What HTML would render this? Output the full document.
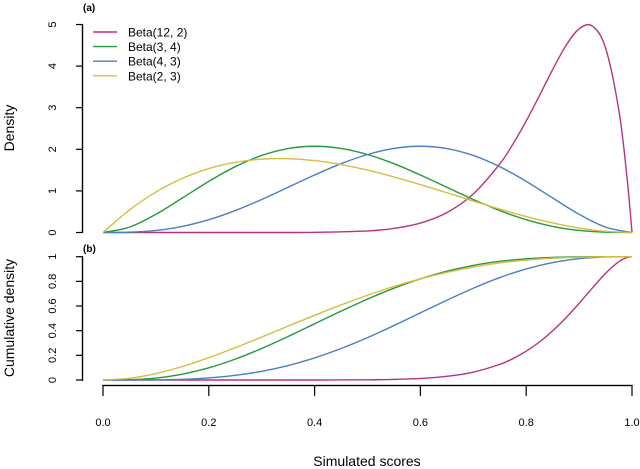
<!DOCTYPE html>
<html><head><meta charset="utf-8"><style>body{margin:0;background:#fff}svg{display:block;font-family:"Liberation Sans",sans-serif}</style></head>
<body>
<svg id="c" width="640" height="469" viewBox="0 0 640 469">
<text x="83" y="11" font-size="10" font-weight="bold">(a)</text>
<text x="83" y="252" font-size="10" font-weight="bold">(b)</text>
<text transform="translate(14,128) rotate(-90)" text-anchor="middle" font-size="14">Density</text>
<text transform="translate(14,318) rotate(-90)" text-anchor="middle" font-size="14">Cumulative density</text>
<text x="367" y="466" text-anchor="middle" font-size="14">Simulated scores</text>
<rect x="81.8" y="24" width="1.4" height="209" fill="#000"/>
<rect x="81.8" y="256" width="1.4" height="125" fill="#000"/>
<g id="axes"></g><g id="lines"></g><g id="legend"></g>
</svg>
<script>
const xs = [0,.05,.1,.15,.2,.25,.3,.35,.4,.45,.5,.55,.6,.65,.7,.75,.8,.85,.9,.95,1];
const xsA = [0,.3,.4,.5,.55,.6,.65,.7,.75,.775,.8,.825,.85,.875,.9,.925,.95,.975,.99,1];
const pdfA = [0,0.0002,0.004,0.038,0.098,0.226,0.478,0.925,1.647,2.127,2.68,3.29,3.915,4.489,4.895,4.963,4.437,2.95,1.397,0];
const cdfA = [0,0,0.0001,0.0017,0.0049,0.0126,0.0296,0.0637,0.1267,0.1736,0.2336,0.3082,0.3983,0.5035,0.6213,0.7456,0.8646,0.9593,0.9928,1];
const pdfB = [0,.1286,.4374,.8291,1.2288,1.582,1.8522,2.0185,2.0736,2.0215,1.875,1.6539,1.3824,1.0869,.7938,.5273,.3072,.1463,.0486,.0068,0];
const pdfC = [0,.0068,.0486,.1463,.3072,.5273,.7938,1.0869,1.3824,1.6539,1.875,2.0215,2.0736,2.0185,1.8522,1.582,1.2288,.8291,.4374,.1286,0];
const pdfD = [0,.5415,.972,1.3005,1.536,1.6875,1.764,1.7745,1.728,1.6335,1.5,1.3365,1.152,.9555,.756,.5625,.384,.2295,.108,.0285,0];
const cdfB = [0,.00223,.01585,.04738,.09888,.16944,.25569,.35292,.45568,.55848,.65625,.74471,.8208,.88258,.92953,.9624,.98304,.99412,.99873,.99991,1];
const cdfC = [0,.00009,.00127,.00588,.01696,.0376,.07047,.11742,.1792,.25529,.34375,.44152,.54432,.64708,.74431,.83056,.90112,.95262,.98415,.99777,1];
const cdfD = [0,.014,.0523,.1095,.1808,.2617,.3483,.437,.5248,.609,.6875,.7585,.8208,.8735,.9163,.9492,.9728,.988,.9963,.9995,1];
const names = ["Beta(12, 2)","Beta(3, 4)","Beta(4, 3)","Beta(2, 3)"];
const colors = ["#b8337d","#239a3f","#4a7fc0","#d6bd40"];
const yTicksA = [0,1,2,3,4,5];
const yTicksB = [0,0.2,0.4,0.6,0.8,1];
const yTickLabB = ["0","0.2","0.4","0.6","0.8","1"];
const xTicks = [0,0.2,0.4,0.6,0.8,1];
const xTickLab = ["0.0","0.2","0.4","0.6","0.8","1.0"];

const NS="http://www.w3.org/2000/svg";
const X = v => 103 + v*529;
const YA = v => 232.5 - v*41.6;
const YB = v => 380 - v*123.3;
function mk(t,a,p){const e=document.createElementNS(NS,t);for(const k in a)e.setAttribute(k,a[k]);p.appendChild(e);return e;}
const axes=document.getElementById('axes'), lines=document.getElementById('lines'), leg=document.getElementById('legend');
function yaxis(ticks,labs,Y,nm){
  ticks.forEach((t,i)=>{
    const tk=mk('line',{x1:76,x2:82.5,y1:Y(t),y2:Y(t),stroke:'#000','stroke-width':1.2},axes);
    
    
    const tx=mk('text',{transform:`translate(56,${Y(t)}) rotate(-90)`,'text-anchor':'middle','font-size':11},axes);
    tx.textContent=labs[i];
    
    
  });
}
yaxis(yTicksA,yTicksA.map(String),YA,'density-y');
yaxis(yTicksB,yTickLabB,YB,'cumulative-y');
const xl=mk('rect',{x:X(0)-0.6,y:384.8,width:X(1)-X(0)+1.2,height:1.4,fill:'#000'},axes);


xTicks.forEach((t,i)=>{
  const tk=mk('line',{x1:X(t),x2:X(t),y1:385,y2:396,stroke:'#000','stroke-width':1.2},axes);
  
  
  const tx=mk('text',{x:X(t),y:426,'text-anchor':'middle','font-size':11},axes);
  tx.textContent=xTickLab[i];
  
  
});
function path(xv,yv,Y){
  const p=xv.map((x,i)=>[X(x),Y(yv[i])]);
  let d=`M${p[0][0]},${p[0][1]}`;
  for(let i=0;i<p.length-1;i++){
    const p0=p[i-1]||p[i],p1=p[i],p2=p[i+1],p3=p[i+2]||p2;
    const c1=[p1[0]+(p2[0]-p0[0])/6,p1[1]+(p2[1]-p0[1])/6];
    const c2=[p2[0]-(p3[0]-p1[0])/6,p2[1]-(p3[1]-p1[1])/6];
    d+=`C${c1[0]},${c1[1]} ${c2[0]},${c2[1]} ${p2[0]},${p2[1]}`;
  }
  return d;
}
const series=[[xsA,pdfA,cdfA],[xs,pdfB,cdfB],[xs,pdfC,cdfC],[xs,pdfD,cdfD]];
series.forEach((s,i)=>{
  const a=mk('path',{d:path(s[0],s[1],YA),fill:'none',stroke:colors[i],'stroke-width':1.4},lines);
  
  
  const b=mk('path',{d:path(s[0],s[2],YB),fill:'none',stroke:colors[i],'stroke-width':1.4},lines);
  
  
  const y=32+i*14.6;
  const ll=mk('line',{x1:93,x2:117,y1:y,y2:y,stroke:colors[i],'stroke-width':1.4},leg);
  
  
  const lt=mk('text',{x:128,y:y+4.5,'font-size':12},leg);
  lt.textContent=names[i];
  
  
});
</script>
</body></html>
